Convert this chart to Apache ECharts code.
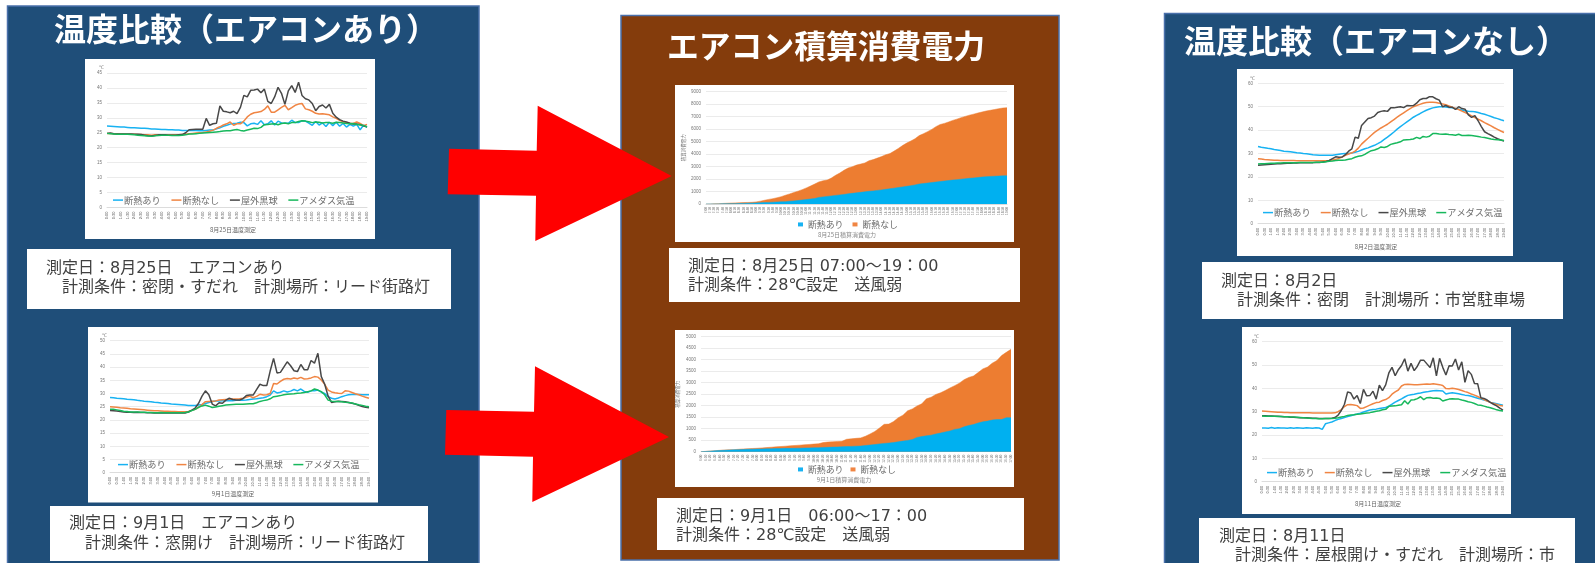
<!DOCTYPE html>
<html lang="ja"><head><meta charset="utf-8">
<style>html,body{margin:0;padding:0;background:#fff;overflow:hidden}#c{width:1595px;height:563px;filter:blur(.45px)}</style>
<script src="https://cdn.jsdelivr.net/npm/echarts@6/dist/echarts.min.js"></script>
</head><body><div id="c"></div>
<script>
// 系列名
const seriesNames = ['断熱あり','断熱なし','屋外黒球','アメダス気温'];
const areaNames = ['断熱あり','断熱なし'];
const FONT = '"Noto Sans CJK JP","Noto Sans",sans-serif';
const BODY = '"DejaVu Sans","Noto Sans CJK JP",sans-serif';

// 時刻ラベル
function clock(startH, endH, stepMin){const a=[];for(let m=startH*60;m<=endH*60;m+=stepMin){a.push(Math.floor(m/60)+':'+String(m%60).padStart(2,'0'));}return a;}
const quarterHours = clock(0,19,15);
const hoursAug25 = clock(7,19,10);
const hoursSep1 = clock(6,17,10);

// 8月25日 温度 (15分毎)
const aug25Blue = [27.3,27.2,27.1,27.0, 26.9,26.9,26.8,26.7, 26.7,26.6,26.5,26.5, 26.4,26.3,26.3,26.2, 26.1,26.1,26.0,26.0, 25.9,25.9,25.8,25.8, 25.8,25.8,25.8,25.7, 25.7,25.8,25.9,25.9, 26.3,26.7,27.2,27.5, 27.9,28.1,28.2,28.5, 28.4,27.3,28.0,28.2, 27.8,29.0,27.7,28.0, 29.0,27.6,28.9,28.3, 28.2,28.2,29.2,28.4, 28.4,29.0,28.9,28.2, 27.5,28.8,27.6,28.3, 27.1,28.5,27.4,28.5, 27.2,28.1,26.9,27.8, 27.2,27.8,26.0,27.6, 26.8];
const aug25Orange = [24.8,24.8,24.7,24.7, 24.6,24.6,24.5,24.5, 24.5,24.4,24.4,24.3, 24.3,24.2,24.3,24.3, 24.3,24.3,24.3,24.3, 24.3,24.3,24.4,24.5, 24.7,24.8,24.9,25.0, 25.1,25.3,25.5,25.9, 26.5,27.0,27.6,28.0, 28.6,27.5,28.0,28.0, 28.9,30.3,31.2,31.7, 31.9,32.1,32.8,34.0, 31.9,31.9,32.7,33.5, 34.2,32.7,33.4,34.2, 34.6,34.8,33.0,32.7, 32.2,31.5,31.3,31.4, 31.2,31.0,30.3,29.8, 29.2,28.7,28.4,28.2, 28.1,28.6,28.1,27.4, 27.8];
const aug25Black = [24.8,24.9,24.7,24.6, 24.6,24.6,24.6,24.6, 24.5,24.5,24.4,24.2, 24.0,23.9,24.1,24.3, 24.3,24.3,24.2,24.2, 24.2,24.3,24.4,25.0, 26.0,26.1,26.2,26.2, 26.2,29.8,27.5,28.0, 28.2,34.0,32.2,32.0, 31.7,32.2,31.4,33.5, 37.5,37.0,39.2,39.3, 39.6,38.4,39.6,35.5, 34.8,37.0,40.2,38.2, 34.5,39.0,40.8,38.5, 41.9,37.5,36.4,36.0, 34.8,32.4,33.8,34.3, 33.3,34.5,31.5,30.2, 29.4,28.9,28.6,28.2, 27.9,27.9,27.7,27.3, 27.0];
const aug25Green = [24.8,24.7,24.6,24.5, 24.5,24.5,24.5,24.4, 24.3,24.2,24.1,24.0, 23.9,23.8,24.0,24.1, 24.2,24.2,24.2,24.1, 24.1,24.1,24.2,24.3, 24.6,24.6,24.7,24.8, 24.9,25.0,25.1,25.2, 25.3,25.4,25.6,25.7, 25.7,25.9,26.1,25.8, 25.6,25.9,26.2,26.5, 26.4,26.8,27.7,27.8, 27.9,28.0,27.7,28.1, 28.3,28.0,28.4,28.4, 28.8,29.0,28.9,28.7, 28.4,28.6,28.5,28.3, 28.4,28.4,28.2,28.5, 28.4,28.3,28.1,28.0, 28.1,27.8,27.7,27.4, 27.0];

// 9月1日 温度
const sep1Blue = [28.5,28.4,28.2,28.1, 28.0,27.8,27.7,27.6, 27.4,27.3,27.1,27.0, 26.9,26.7,26.6,26.4, 26.3,26.2,26.0,25.9, 25.8,25.7,25.6,25.5, 25.5,25.5,25.6,25.8, 26.2,26.6,27.0,27.2, 27.2,27.3,27.3,27.3, 27.3,27.4,27.4,27.4, 27.5,27.7,27.9,28.0, 28.2,28.4,28.8,29.4, 31.0,30.2,30.5,31.0, 30.6,30.9,31.5,31.0, 31.7,30.8,30.5,31.0, 31.0,31.3,30.5,30.0, 28.8,28.2,27.9,28.3, 28.8,29.2,29.5,29.6, 29.6,29.6,29.5,29.5, 29.5];
const sep1Orange = [25.0,24.9,24.8,24.6, 24.5,24.4,24.2,24.1, 24.0,23.9,23.8,23.7, 23.6,23.5,23.5,23.4, 23.3,23.3,23.2,23.2, 23.1,23.1,23.1,23.2, 23.6,24.0,24.7,25.8, 26.9,27.0,27.1,27.2, 27.5,27.6,27.7,27.8, 27.9,27.9,28.0,28.2, 28.6,29.0,28.4,28.9, 29.7,29.4,29.5,30.0, 33.8,33.6,34.6,35.4, 35.7,35.5,35.9,35.6, 36.1,35.5,35.6,35.9, 36.4,36.2,35.1,33.5, 31.3,30.6,30.3,30.1, 30.0,31.0,30.9,30.4, 29.9,29.5,29.0,28.6, 28.2];
const sep1Black = [23.6,23.5,23.4,23.2, 23.0,22.9,22.9,22.8, 22.9,22.8,22.8,22.7, 22.7,22.6,22.6,22.7, 22.6,22.6,22.6,22.6, 22.6,22.6,22.6,23.0, 23.7,24.5,26.3,29.0, 31.0,29.5,26.0,25.3, 26.5,26.3,27.5,28.2, 27.7,27.5,27.5,28.0, 29.2,29.4,29.4,31.5, 33.5,33.0,33.0,38.5, 43.3,37.8,38.0,40.0, 42.0,40.5,38.6,38.3, 41.0,39.0,39.0,42.5, 41.5,45.2,36.4,33.5, 29.0,26.6,26.9,27.1, 27.0,26.9,26.6,26.3, 26.0,25.5,25.1,24.8, 24.6];
const sep1Green = [24.0,24.0,23.8,23.6, 23.3,23.2,23.0,23.0, 23.0,22.9,22.9,22.8, 22.8,22.7,22.7,22.8, 22.7,22.7,22.7,22.7, 22.7,22.7,22.8,23.0, 23.5,24.0,24.8,25.3, 25.6,25.2,24.7,24.9, 25.2,25.4,25.6,25.7, 25.8,25.9,25.9,25.9, 26.0,26.1,26.1,26.5, 27.0,27.3,27.5,28.0, 28.8,29.0,29.2,29.5, 29.7,29.8,29.9,30.1, 30.2,30.4,30.7,31.0, 31.7,31.3,30.7,29.5, 27.5,27.1,27.0,27.0, 26.9,26.7,26.6,26.4, 26.0,25.7,25.5,25.2, 25.0];

// 8月2日 温度
const aug2Blue = [33.0,32.7,32.5,32.2, 32.0,31.7,31.5,31.3, 31.0,30.9,30.7,30.5, 30.3,30.2,30.0,29.9, 29.7,29.5,29.4,29.3, 29.2,29.2,29.2,29.3, 29.5,29.7,29.9,30.0, 30.0,30.2,30.5,30.9, 31.5,32.0,32.4,33.0, 33.5,34.2,35.0,36.0, 37.0,38.1,39.2,40.4, 41.5,42.5,43.5,44.5, 45.5,46.3,47.0,47.8, 48.5,49.0,49.5,49.8, 50.0,50.0,49.9,49.7, 49.5,49.2,48.9,48.6, 48.3,48.1,48.0,47.8, 47.5,47.1,46.8,46.3, 45.8,45.3,44.9,44.4, 44.0];
const aug2Orange = [27.8,27.6,27.4,27.3, 27.2,27.1,27.1,27.0, 27.0,27.0,27.0,27.0, 26.9,26.9,26.9,26.9, 26.9,26.9,26.9,26.9, 26.9,26.9,27.0,27.2, 27.5,27.9,28.5,29.2, 29.8,30.3,31.0,32.3, 34.0,35.3,36.5,37.8, 39.0,40.0,40.9,41.7, 42.5,43.5,44.5,45.5, 46.5,47.4,48.3,49.2, 50.0,50.5,51.0,51.5, 51.8,51.9,51.9,51.8, 51.5,51.2,50.8,50.3, 49.8,49.3,48.8,48.1, 47.5,46.8,46.1,45.4, 44.7,44.0,43.2,42.5, 41.8,41.0,40.3,39.6, 39.0];
const aug2Black = [25.0,25.1,25.2,25.3, 25.4,25.5,25.6,25.6, 25.7,25.8,25.8,25.9, 25.9,26.0,26.0,26.1, 26.1,26.1,26.2,26.2, 26.4,26.6,27.0,27.8, 28.6,28.4,28.5,29.5, 31.0,32.0,37.0,36.5, 42.0,43.5,45.0,45.3, 46.0,47.5,48.0,48.3, 48.0,49.5,49.5,49.8, 50.0,49.6,50.5,50.4, 50.5,51.5,53.0,53.5, 53.5,54.3,54.2,53.4, 52.8,50.0,50.5,49.8, 49.8,48.8,50.0,49.2, 48.9,46.5,45.4,46.2, 44.0,41.5,39.3,38.5, 37.8,37.0,36.3,35.8, 35.3];
const aug2Green = [25.5,25.6,25.6,25.7, 25.8,25.8,25.9,25.9, 26.0,26.0,26.1,26.1, 26.1,26.2,26.2,26.2, 26.2,26.2,26.3,26.3, 26.3,26.5,26.7,26.8, 27.0,27.1,27.1,27.2, 27.5,27.8,28.4,28.8, 29.0,29.6,30.5,31.2, 31.5,32.0,32.8,32.6, 33.0,33.9,34.3,34.6, 35.0,35.8,35.9,36.0, 36.2,36.9,36.4,37.3, 37.0,37.4,38.5,38.5, 38.3,38.2,38.3,38.1, 38.0,37.8,38.2,37.7, 37.7,37.8,37.7,37.5, 37.3,37.0,36.8,36.5, 36.2,36.0,35.9,35.8, 35.6];

// 8月11日 温度
const aug11Blue = [23.0,23.0,22.9,23.2, 22.9,23.1,23.0,23.0, 22.9,23.1,22.9,23.1, 23.0,22.9,23.1,23.0, 22.9,23.1,23.0,22.4, 24.8,25.2,25.6,26.2, 26.7,27.1,27.5,27.9, 28.3,28.7,29.0,29.4, 29.9,30.3,30.7,30.9, 31.1,31.4,31.6,31.8, 32.4,33.2,34.1,34.8, 35.5,36.3,37.0,37.3, 37.5,37.8,38.0,38.3, 38.5,38.8,39.0,39.1, 39.0,38.9,37.6,37.9, 38.1,37.9,37.7,37.4, 37.1,36.9,36.6,36.2, 35.8,35.4,35.0,34.7, 34.0,33.7,33.4,33.1, 32.8];
const aug11Orange = [30.3,30.2,30.1,30.0, 29.9,29.8,29.8,29.7, 29.7,29.6,29.6,29.6, 29.5,29.5,29.5,29.5, 29.4,29.4,29.4,29.4, 29.4,29.4,29.4,29.5, 30.0,30.9,32.2,33.0, 33.1,32.9,32.6,31.4, 31.6,32.2,32.8,33.4, 33.9,34.1,34.8,35.2, 36.0,37.5,38.5,39.3, 41.0,41.7,41.8,41.7, 41.6,41.5,41.7,41.8, 41.9,41.8,42.0,41.8, 41.6,41.2,39.9,39.8, 40.0,39.8,39.5,39.1, 38.6,38.2,37.6,37.1, 36.5,35.8,35.2,34.6, 34.0,33.5,33.1,32.7, 32.4];
const aug11Black = [28.3,28.3,28.2,28.2, 28.0,28.0,27.9,27.8, 27.8,27.6,27.6,27.5, 27.4,27.4,27.4,27.3, 27.2,27.2,27.1,27.1, 27.1,27.1,27.2,27.5, 28.5,30.5,33.2,38.5, 38.0,35.4,36.9,33.5, 39.6,36.8,36.9,38.8, 35.4,41.4,39.0,41.5, 46.6,49.0,45.4,48.0, 49.8,52.7,47.4,50.7, 47.6,49.5,52.1,52.1, 50.5,48.9,53.1,45.4, 52.9,49.0,45.7,49.7, 49.6,52.6,47.9,51.4, 42.6,47.6,46.0,42.1, 42.0,36.0,35.7,35.0, 34.0,33.2,32.5,31.5, 30.7];
const aug11Green = [28.2,28.1,28.1,28.0, 28.0,27.9,27.9,27.8, 27.8,27.7,27.7,27.6, 27.5,27.4,27.3,27.2, 27.1,27.1,27.0,27.0, 27.1,27.1,27.1,27.2, 27.4,27.7,28.0,28.4, 28.6,28.7,28.9,29.0, 29.2,29.4,29.6,29.9, 30.2,30.4,30.8,31.0, 32.3,32.4,32.5,32.8, 33.0,34.7,33.3,35.0, 35.1,35.6,36.4,35.2, 36.0,36.1,35.8,35.9, 35.7,34.6,35.0,35.4, 35.5,35.4,35.4,35.0, 34.7,34.3,34.0,33.5, 32.9,32.8,32.4,32.0, 31.7,31.3,30.8,30.5, 30.3];

// 積算消費電力
const powerAug25Orange = [0,5,15,30,45,60,75,90,100,115,125,135,170, 230,300,370,430,500,590,700,810,920,1030,1150,1290, 1440,1600,1770,1860,1920,2080,2300,2480,2700,2880,2990,3120, 3200,3290,3470,3560,3680,3800,3950,4040,4240,4450,4680,4880, 5050,5230,5480,5630,5800,5980,6200,6370,6460,6570,6700,6800, 6920,7020,7120,7200,7290,7370,7450,7510,7570,7640,7690,7720];
const powerAug25Blue = [0,2,5,10,15,20,25,30,40,50,60,70,85, 100,115,130,145,160,175,190,220,250,280,320,360, 400,440,530,570,610,650,690,730,770,815,855,895, 935,975,1015,1050,1090,1130,1175,1220,1270,1320,1370,1420, 1470,1530,1600,1640,1680,1720,1760,1800,1840,1880,1920,1950, 1990,2020,2060,2090,2120,2160,2190,2210,2225,2240,2255,2270];
const powerSep1Orange = [0,15,30,45,60,75,85,90, 105,120,130,140,150,165,180,195,210,225,240,255, 270,285,300,315,330,345,395,420,430,445,450,540, 560,580,600,670,770,880,1030,1190,1200,1310,1480,1590, 1780,1860,1990,2080,2300,2370,2490,2560,2660,2770,2870,2980, 3130,3230,3290,3440,3600,3680,3850,3960,4180,4320,4450];
const powerSep1Blue = [0,10,25,40,50,60,70,80, 90,95,105,110,115,120,125,130,135,140,145,145, 150,155,160,165,170,175,185,190,200,205,215,225, 230,240,245,270,290,310,340,360,375,400,430,460, 490,530,620,660,690,720,770,810,860,900,970,1000, 1080,1140,1180,1250,1300,1330,1380,1400,1400,1480,1480];

// 目盛り
const tempTicks = {aug25:[0,45,5], sep1:[0,50,5], aug2:[0,60,10], aug11:[0,60,10]};
const powerTicks = {aug25:[0,9000,1000], sep1:[0,5000,500]};

const [cBlue,cOrange,cBlack,cGreen] = ['#18b2f2','#f08543','#484848','#17b85c'];
const tempColors = [cBlue,cOrange,cBlack,cGreen];

const grid=[],xAxis=[],yAxis=[],series=[],legend=[];
function addLine(rect,labels,vals,ticks,lg,label5){
  const i=grid.length;
  grid.push({left:rect[0],top:rect[1],width:rect[2]-rect[0],height:rect[3]-rect[1]});
  xAxis.push({type:'category',gridIndex:i,data:labels,boundaryGap:false,
    axisTick:{show:false},axisLine:{lineStyle:{color:'#dcdcdc',width:1}},
    axisLabel:{interval:1,rotate:90,fontSize:label5?4.5:4,color:'#555',margin:4,fontFamily:'Liberation Sans'}});
  yAxis.push({type:'value',gridIndex:i,min:ticks[0],max:ticks[1],interval:ticks[2],name:'℃',
    nameGap:2,nameTextStyle:{fontSize:5,color:'#777',align:'right',padding:[0,3,0,0]},
    axisLine:{show:false},axisTick:{show:false},splitLine:{lineStyle:{color:'#ebebeb',width:1}},
    axisLabel:{fontSize:label5?5.5:4.5,color:'#777',margin:5,fontFamily:'Liberation Sans',formatter:v=>String(v)}});
  vals.forEach((v,k)=>{ if(v.length!==labels.length) throw new Error('len '+i+' '+k+' '+v.length);
    series.push({type:'line',name:seriesNames[k],xAxisIndex:i,yAxisIndex:i,data:v,showSymbol:false,silent:true,
    lineStyle:{width:1.5,color:tempColors[k]},itemStyle:{color:tempColors[k]},z:3+k,animation:false});});
  legend.push({data:seriesNames,left:lg[0],top:lg[1],itemWidth:10,itemHeight:1.5,icon:'rect',itemGap:lg[2],selectedMode:false,
    textStyle:{fontSize:9.2,color:'#6a6a6a',fontFamily:FONT,padding:[0,0,0,-4]},padding:0});
}
function addArea(rect,labels,blue,orange,ticks,lg){
  const i=grid.length;
  grid.push({left:rect[0],top:rect[1],width:rect[2]-rect[0],height:rect[3]-rect[1]});
  xAxis.push({type:'category',gridIndex:i,data:labels,boundaryGap:false,axisTick:{show:false},
    axisLine:{lineStyle:{color:'#dcdcdc',width:1}},
    axisLabel:{interval:0,rotate:90,fontSize:3.2,color:'#777',margin:3,fontFamily:'Liberation Sans'}});
  yAxis.push({type:'value',gridIndex:i,min:ticks[0],max:ticks[1],interval:ticks[2],name:'積算消費電力',nameLocation:'middle',nameGap:ticks[1]>5000?20:21,
    nameTextStyle:{fontSize:4.5,color:'#777',fontFamily:FONT},axisLine:{show:false},axisTick:{show:false},
    splitLine:{lineStyle:{color:'#ebebeb',width:1}},axisLabel:{fontSize:4.5,color:'#777',margin:5,fontFamily:'Liberation Sans',formatter:v=>String(v)}});
  [[blue,'#00b0f0',3],[orange,'#ed7d31',2]].forEach((s,k)=>{ if(s[0].length!==labels.length) throw new Error('alen '+i+' '+k+' '+s[0].length);
    series.push({type:'line',name:areaNames[k],xAxisIndex:i,yAxisIndex:i,data:s[0],showSymbol:false,silent:true,z:s[2],
    lineStyle:{width:0.5,color:s[1]},itemStyle:{color:s[1]},areaStyle:{color:s[1],opacity:1},animation:false});});
  legend.push({data:areaNames,left:lg[0],top:lg[1],itemWidth:5,itemHeight:4,icon:'rect',itemGap:lg[2],selectedMode:false,
    textStyle:{fontSize:8.9,color:'#6a6a6a',fontFamily:FONT},padding:0});
}

addLine([107,73,367,207.5],quarterHours,[aug25Blue,aug25Orange,aug25Black,aug25Green],tempTicks.aug25,[113,195.5,10.7]);
addLine([110,340.7,369,472.7],quarterHours,[sep1Blue,sep1Orange,sep1Black,sep1Green],tempTicks.sep1,[118,460,10.7]);
addLine([1258,83.3,1504,223.7],quarterHours,[aug2Blue,aug2Orange,aug2Black,aug2Green],tempTicks.aug2,[1263,208,10]);
addLine([1262,341.7,1503,481.7],quarterHours,[aug11Blue,aug11Orange,aug11Black,aug11Green],tempTicks.aug11,[1267,468,10]);
addArea([706,91.7,1007,204],hoursAug25,powerAug25Blue,powerAug25Orange,powerTicks.aug25,[798,220,9]);
addArea([701,336.7,1011,451.7],hoursSep1,powerSep1Blue,powerSep1Orange,powerTicks.sep1,[798,465,7]);

// 装飾
const rect=(x0,y0,x1,y1,fill,stroke,z)=>({type:'rect',z:z||-10,silent:true,shape:{x:x0,y:y0,width:x1-x0,height:y1-y0},style:{fill,stroke:stroke||null,lineWidth:stroke?1.5:0}});
const txt=(x,y,t,o)=>({type:'text',z:20,silent:true,x,y,style:Object.assign({text:t,fill:'#404040',font:'16px '+BODY,textVerticalAlign:'middle',textAlign:'left'},o||{})});
const arrow=p=>({type:'polygon',z:50,silent:true,shape:{points:p},style:{fill:'#ff0000'}});
const BL='#4a70ab', NAVY='#1f4e79', BROWN='#843c0c';
const graphic=[
 rect(7.5,6,479,570,NAVY,BL,-20), rect(621,15.5,1059,560,BROWN,BL,-20), rect(1164.5,13.5,1600,570,NAVY,BL,-20),
 txt(54,29,'温度比較（エアコンあり）',{font:'bold 32px '+FONT,fill:'#fff'}),
 txt(667,46,'エアコン積算消費電力',{font:'bold 31.8px '+FONT,fill:'#fff'}),
 txt(1184,41,'温度比較（エアコンなし）',{font:'bold 32px '+FONT,fill:'#fff'}),
 rect(85,59,375,239,'#fff'), rect(88,327,378,502.5,'#fff'), rect(675,85,1014,242,'#fff'), rect(675,330,1014,487,'#fff'), rect(1237,69,1513,256,'#fff'), rect(1242,327,1511,514,'#fff'),
 rect(27,249,451,309,'#fff'), rect(50,506,428,561,'#fff'), rect(669,248,1020,302,'#fff'), rect(657,498,1024,550,'#fff'), rect(1202,262,1563,319,'#fff'), rect(1199,518,1575,570,'#fff'),
 txt(46,268.5,'測定日：8月25日　エアコンあり'), txt(62,287.5,'計測条件：密閉・すだれ　計測場所：リード街路灯'),
 txt(69,524,'測定日：9月1日　エアコンあり'), txt(85,544,'計測条件：窓開け　計測場所：リード街路灯'),
 txt(688,267,'測定日：8月25日 07:00～19：00'), txt(688,286,'計測条件：28℃設定　送風弱'),
 txt(676,517,'測定日：9月1日　06:00～17：00'), txt(676,536,'計測条件：28℃設定　送風弱'),
 txt(1221,281.5,'測定日：8月2日'), txt(1237,300.5,'計測条件：密閉　計測場所：市営駐車場'),
 txt(1219,537,'測定日：8月11日'), txt(1235,556,'計測条件：屋根開け・すだれ　計測場所：市'),
 txt(233,230,'8月25日温度測定',{font:'6px '+FONT,fill:'#666',textAlign:'center'}),
 txt(233,494,'9月1日温度測定',{font:'6px '+FONT,fill:'#666',textAlign:'center'}),
 txt(1376,247,'8月2日温度測定',{font:'6px '+FONT,fill:'#666',textAlign:'center'}),
 txt(1378,504,'8月11日温度測定',{font:'6px '+FONT,fill:'#666',textAlign:'center'}),
 txt(847,235,'8月25日積算消費電力',{font:'6px '+FONT,fill:'#888',textAlign:'center'}),
 txt(844,480,'9月1日積算消費電力',{font:'6px '+FONT,fill:'#888',textAlign:'center'}),
 arrow([[449,148.7],[536.7,150.7],[537.7,105.7],[671.7,176],[535.3,241],[536,195.7],[447.7,194.3]]),
 arrow([[446.3,410],[534,411.7],[535,366.3],[669,437],[532.3,502],[533,456.7],[445,454.7]])
];
const chart=echarts.init(document.getElementById('c'),null,{renderer:'canvas'});
chart.setOption({animation:false,backgroundColor:'#fff',tooltip:{show:false},grid,xAxis,yAxis,series,legend,graphic});
</script></body></html>
